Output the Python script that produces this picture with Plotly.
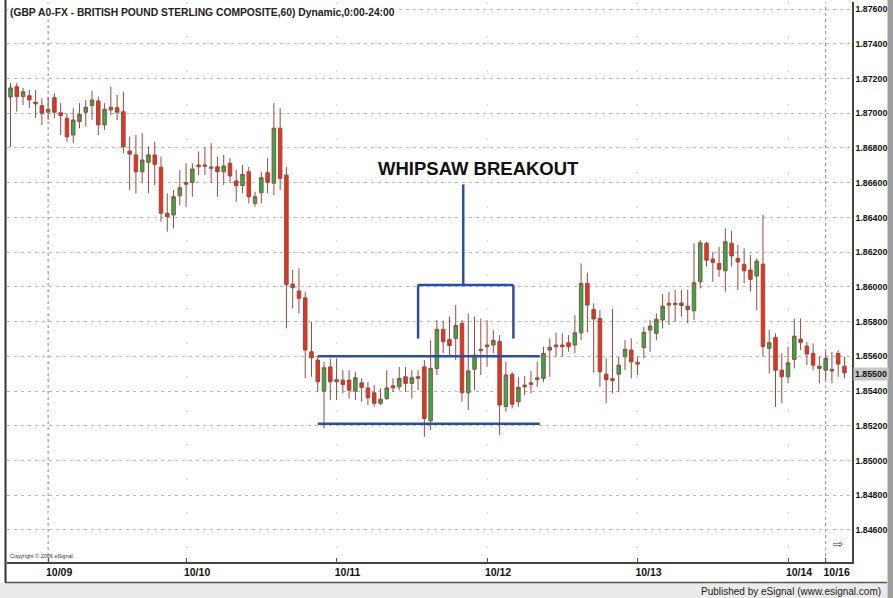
import plotly.graph_objects as go

# hourly GBP/USD bars, 10/08 evening .. 10/16 morning (bar index on x)
bars = list(range(134))

opens = [
    1.87094, 1.87153, 1.87096, 1.87101, 1.87054, 1.87044, 1.87006, 1.87090, 1.87003, 1.86971,
    1.86875, 1.86952, 1.87006, 1.87044, 1.87071, 1.86933, 1.87019, 1.87032, 1.87009, 1.86783,
    1.86760, 1.86663, 1.86718, 1.86760, 1.86689, 1.86424, 1.86414, 1.86525, 1.86591, 1.86602,
    1.86692, 1.86695, 1.86683, 1.86692, 1.86663, 1.86712, 1.86610, 1.86583, 1.86663, 1.86481,
    1.86542, 1.86658, 1.86597, 1.86914, 1.86644, 1.86016, 1.85976, 1.85937, 1.85626, 1.85578,
    1.85399, 1.85539, 1.85453, 1.85463, 1.85463, 1.85399, 1.85447, 1.85418, 1.85390, 1.85329,
    1.85357, 1.85418, 1.85424, 1.85482, 1.85444, 1.85473, 1.85539, 1.85228, 1.85530, 1.85755,
    1.85697, 1.85703, 1.85790, 1.85390, 1.85525, 1.85632, 1.85655, 1.85665, 1.85684, 1.85311,
    1.85496, 1.85338, 1.85424, 1.85438, 1.85467, 1.85473, 1.85636, 1.85655, 1.85655, 1.85678,
    1.85665, 1.85735, 1.86020, 1.85870, 1.85818, 1.85497, 1.85461, 1.85497, 1.85597, 1.85636,
    1.85555, 1.85651, 1.85751, 1.85732, 1.85809, 1.85895, 1.85897, 1.85907, 1.85889, 1.85862,
    1.86029, 1.86251, 1.86160, 1.86135, 1.86093, 1.86251, 1.86164, 1.86130, 1.86097, 1.86062,
    1.86131, 1.85646, 1.85709, 1.85520, 1.85482, 1.85582, 1.85699, 1.85659, 1.85617, 1.85543,
    1.85520, 1.85516, 1.85617, 1.85543]

highs = [
    1.87175, 1.87175, 1.87146, 1.87134, 1.87134, 1.87086, 1.87094, 1.87115, 1.87059, 1.87000,
    1.87029, 1.87058, 1.87077, 1.87129, 1.87096, 1.87058, 1.87153, 1.87105, 1.87124, 1.86865,
    1.86875, 1.86885, 1.86807, 1.86836, 1.86750, 1.86539, 1.86558, 1.86673, 1.86712, 1.86712,
    1.86779, 1.86802, 1.86827, 1.86750, 1.86760, 1.86741, 1.86673, 1.86702, 1.86692, 1.86548,
    1.86663, 1.86741, 1.87058, 1.87029, 1.86692, 1.86097, 1.86107, 1.85972, 1.85799, 1.85597,
    1.85568, 1.85588, 1.85588, 1.85520, 1.85520, 1.85511, 1.85473, 1.85453, 1.85434, 1.85415,
    1.85520, 1.85473, 1.85539, 1.85539, 1.85520, 1.85520, 1.85578, 1.85693, 1.85809, 1.85803,
    1.85828, 1.85895, 1.85809, 1.85847, 1.85828, 1.85818, 1.85809, 1.85751, 1.85722, 1.85568,
    1.85511, 1.85480, 1.85486, 1.85515, 1.85568, 1.85655, 1.85703, 1.85737, 1.85732, 1.85722,
    1.85837, 1.86135, 1.86082, 1.85905, 1.85866, 1.85588, 1.85873, 1.85597, 1.85693, 1.85703,
    1.85597, 1.85770, 1.85809, 1.85847, 1.85959, 1.85972, 1.85982, 1.85982, 1.85982, 1.86251,
    1.86270, 1.86260, 1.86202, 1.86231, 1.86337, 1.86323, 1.86241, 1.86222, 1.86183, 1.86164,
    1.86414, 1.85751, 1.85732, 1.85617, 1.85655, 1.85818, 1.85818, 1.85684, 1.85674, 1.85597,
    1.85626, 1.85626, 1.85636, 1.85597]

lows = [
    1.86806, 1.87009, 1.87048, 1.87031, 1.86973, 1.86933, 1.86961, 1.86971, 1.86875, 1.86836,
    1.86827, 1.86914, 1.86923, 1.86961, 1.86875, 1.86904, 1.86990, 1.86961, 1.86769, 1.86558,
    1.86539, 1.86597, 1.86539, 1.86587, 1.86375, 1.86318, 1.86337, 1.86471, 1.86462, 1.86519,
    1.86644, 1.86644, 1.86598, 1.86519, 1.86587, 1.86597, 1.86490, 1.86539, 1.86481, 1.86462,
    1.86481, 1.86539, 1.86529, 1.86558, 1.85761, 1.85876, 1.85847, 1.85473, 1.85482, 1.85395,
    1.85184, 1.85348, 1.85348, 1.85386, 1.85357, 1.85348, 1.85338, 1.85319, 1.85309, 1.85319,
    1.85348, 1.85395, 1.85405, 1.85395, 1.85357, 1.85405, 1.85136, 1.85175, 1.85492, 1.85617,
    1.85597, 1.85578, 1.85338, 1.85290, 1.85405, 1.85492, 1.85539, 1.85617, 1.85146, 1.85280,
    1.85300, 1.85309, 1.85376, 1.85386, 1.85424, 1.85453, 1.85482, 1.85597, 1.85597, 1.85626,
    1.85617, 1.85693, 1.85737, 1.85506, 1.85424, 1.85329, 1.85386, 1.85393, 1.85520, 1.85473,
    1.85492, 1.85588, 1.85626, 1.85693, 1.85761, 1.85780, 1.85799, 1.85828, 1.85790, 1.85809,
    1.85991, 1.86116, 1.86029, 1.86058, 1.85972, 1.86116, 1.85982, 1.86020, 1.85972, 1.85866,
    1.85597, 1.85501, 1.85309, 1.85329, 1.85444, 1.85530, 1.85636, 1.85549, 1.85520, 1.85444,
    1.85463, 1.85444, 1.85482, 1.85473]

closes = [
    1.87146, 1.87096, 1.87124, 1.87077, 1.87063, 1.87000, 1.87023, 1.87006, 1.86986, 1.86865,
    1.86961, 1.86994, 1.87035, 1.87077, 1.86933, 1.87023, 1.87035, 1.87006, 1.86807, 1.86765,
    1.86663, 1.86731, 1.86760, 1.86706, 1.86424, 1.86404, 1.86519, 1.86571, 1.86600, 1.86679,
    1.86702, 1.86702, 1.86690, 1.86663, 1.86696, 1.86639, 1.86583, 1.86648, 1.86519, 1.86519,
    1.86629, 1.86602, 1.86914, 1.86625, 1.86014, 1.85995, 1.85934, 1.85636, 1.85591, 1.85453,
    1.85534, 1.85453, 1.85465, 1.85438, 1.85405, 1.85476, 1.85421, 1.85361, 1.85329, 1.85353,
    1.85418, 1.85430, 1.85473, 1.85444, 1.85476, 1.85482, 1.85242, 1.85530, 1.85755, 1.85684,
    1.85662, 1.85777, 1.85390, 1.85516, 1.85607, 1.85640, 1.85665, 1.85692, 1.85319, 1.85492,
    1.85324, 1.85421, 1.85434, 1.85447, 1.85476, 1.85617, 1.85652, 1.85665, 1.85665, 1.85655,
    1.85735, 1.86020, 1.85895, 1.85815, 1.85511, 1.85465, 1.85471, 1.85549, 1.85640, 1.85568,
    1.85565, 1.85738, 1.85774, 1.85813, 1.85889, 1.85905, 1.85905, 1.85893, 1.85870, 1.86024,
    1.86254, 1.86154, 1.86141, 1.86101, 1.86260, 1.86178, 1.86143, 1.86093, 1.86043, 1.86149,
    1.85655, 1.85678, 1.85520, 1.85482, 1.85563, 1.85716, 1.85680, 1.85613, 1.85549, 1.85530,
    1.85588, 1.85525, 1.85555, 1.85505]

day_ticks = [6, 28, 52, 76, 100, 124, 130]
day_labels = ["10/09", "10/10", "10/11", "10/12", "10/13", "10/14", "10/16"]
week_lines = [6, 130]

last_price = 1.85500
resistance = 1.85600
support = 1.85212

GREEN = "#22b34a"
RED = "#e6331c"
WICK = "#9a4a40"
BLUE = "#2d4fa3"

W, H = 893, 598
ML, MR, MT, MB = 7, 41, 2, 36
PW, PH = W - ML - MR, H - MT - MB


def px_x(px):
    return (px - ML) / PW


def px_y(py):
    return (H - MB - py) / PH


fig = go.Figure()

fig.add_trace(go.Candlestick(
    x=bars, open=opens, high=highs, low=lows, close=closes,
    increasing=dict(line=dict(color=WICK, width=1), fillcolor=GREEN),
    decreasing=dict(line=dict(color=WICK, width=1), fillcolor=RED),
    whiskerwidth=0, showlegend=False,
))

shapes = []
# support / resistance lines of the range
for lvl in [resistance, support]:
    shapes.append(dict(type="line", xref="x", yref="y", x0=49, x1=84.4, y0=lvl, y1=lvl,
                       line=dict(color=BLUE, width=2.5)))
# bracket over the whipsaw
shapes += [
    dict(type="line", xref="x", yref="y", x0=65, x1=65, y0=1.85702, y1=1.86010,
         line=dict(color=BLUE, width=2.5)),
    dict(type="line", xref="x", yref="y", x0=80.2, x1=80.2, y0=1.85702, y1=1.86010,
         line=dict(color=BLUE, width=2.5)),
    dict(type="line", xref="x", yref="y", x0=65, x1=80.2, y0=1.86010, y1=1.86010,
         line=dict(color=BLUE, width=2.5)),
    dict(type="line", xref="x", yref="y", x0=72.2, x1=72.2, y0=1.86010, y1=1.86590,
         line=dict(color=BLUE, width=2.5)),
]
# week separators
for wl in week_lines:
    shapes.append(dict(type="line", xref="x", yref="paper", x0=wl, x1=wl, y0=0, y1=1,
                       line=dict(color="#8a8a8a", width=1, dash="dot"), layer="below"))
# frame pieces
shapes += [
    dict(type="rect", xref="paper", yref="paper", x0=px_x(0), x1=px_x(887),
         y0=px_y(598), y1=px_y(583), fillcolor="#ebebeb", line=dict(width=0)),
    dict(type="line", xref="paper", yref="paper", x0=px_x(5), x1=px_x(887),
         y0=px_y(582.5), y1=px_y(582.5), line=dict(color="#555555", width=1.5)),
    dict(type="line", xref="paper", yref="paper", x0=px_x(5.5), x1=px_x(5.5),
         y0=px_y(582.5), y1=px_y(0), line=dict(color="#333333", width=2)),
    dict(type="rect", xref="paper", yref="paper", x0=px_x(887.5), x1=px_x(893),
         y0=px_y(598), y1=px_y(0), fillcolor="#9d9d9d", line=dict(width=0), layer="below"),
]

annotations = [
    dict(text="(GBP A0-FX - BRITISH POUND STERLING COMPOSITE,60) Dynamic,0:00-24:00",
         xref="paper", yref="paper", x=px_x(8), y=px_y(12), xanchor="left", yanchor="middle",
         showarrow=False, font=dict(family="Arial", size=10.3, color="#222222", weight="bold"),
         bgcolor="white"),
    dict(text="WHIPSAW BREAKOUT", xref="x", yref="y", x=74.6, y=1.86684,
         showarrow=False, font=dict(family="Arial", size=18.5, color="#111111", weight="bold")),
    dict(text="Copyright \u00a9 2006 eSignal.", xref="paper", yref="paper", x=px_x(8), y=px_y(556),
         xanchor="left", yanchor="middle", showarrow=False,
         font=dict(family="Arial", size=5.5, color="#333333")),
    dict(text="\u21e8", xref="paper", yref="paper", x=px_x(845), y=px_y(553),
         showarrow=False, font=dict(family="DejaVu Sans", size=12, color="#333333")),
    dict(text="Published by eSignal (www.esignal.com)", xref="paper", yref="paper",
         x=px_x(883), y=px_y(591), xanchor="right", yanchor="middle", showarrow=False,
         font=dict(family="Arial", size=10, color="#222222")),
    dict(text="1.85500", xref="paper", yref="y", x=1, y=last_price, xanchor="left",
         yanchor="middle", xshift=1, showarrow=False, bgcolor="#c6c6c6", borderpad=1,
         font=dict(family="Arial", size=8.8, color="#111111", weight="bold")),
]

fig.update_layout(
    width=W, height=H,
    margin=dict(l=ML, r=MR, t=MT, b=MB),
    paper_bgcolor="white", plot_bgcolor="white",
    shapes=shapes, annotations=annotations,
    boxgap=0.2,
    xaxis=dict(
        range=[-0.56, 134.2], rangeslider=dict(visible=False),
        tickmode="array", tickvals=day_ticks, ticktext=day_labels,
        ticks="inside", ticklen=4, tickcolor="#555555", ticklabelshift=11,
        showgrid=True, gridcolor="#dddddd", griddash="2px,32px",
        showline=True, linecolor="#444444", linewidth=1.5, zeroline=False,
        tickfont=dict(family="Arial", size=10.5, color="#111111", weight="bold"),
    ),
    yaxis=dict(
        side="right", range=[1.84415, 1.87641],
        tick0=1.846, dtick=0.002, tickformat=".5f", ticks="",
        showgrid=True, gridcolor="#b8b8b8", griddash="3px,4px",
        showline=True, linecolor="#444444", linewidth=1.5, zeroline=False,
        tickfont=dict(family="Arial", size=8.8, color="#111111", weight="bold"),
    ),
    hovermode=False,
)

# page body margin would push the fixed-size figure off the window
fig.write_html("out.html", config={"displayModeBar": False},
               post_script="document.body.style.margin='0';")
